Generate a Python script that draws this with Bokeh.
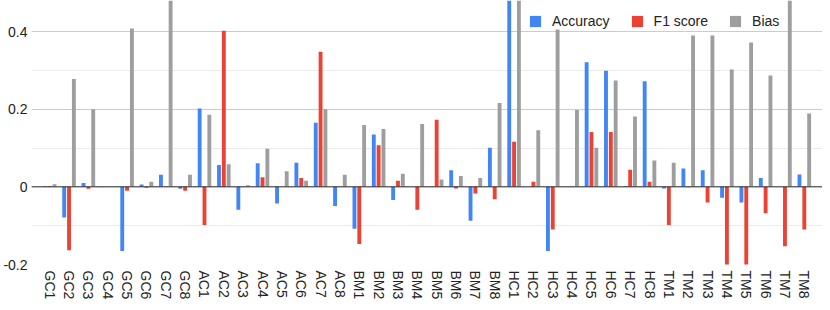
from bokeh.plotting import figure
from bokeh.models import ColumnDataSource, FactorRange, FixedTicker, Span, CustomJSTickFormatter, Legend
from bokeh.transform import dodge
from bokeh.embed import file_html
from bokeh.resources import INLINE

categories = ["GC1", "GC2", "GC3", "GC4", "GC5", "GC6", "GC7", "GC8",
              "AC1", "AC2", "AC3", "AC4", "AC5", "AC6", "AC7", "AC8",
              "BM1", "BM2", "BM3", "BM4", "BM5", "BM6", "BM7", "BM8",
              "HC1", "HC2", "HC3", "HC4", "HC5", "HC6", "HC7", "HC8",
              "TM1", "TM2", "TM3", "TM4", "TM5", "TM6", "TM7", "TM8"]

accuracy = [0.002, -0.079, 0.010, 0.001, -0.165, 0.006, 0.031, -0.005,
            0.202, 0.056, -0.059, 0.061, -0.043, 0.062, 0.165, -0.049,
            -0.108, 0.135, -0.034, 0.0, 0.001, 0.043, -0.087, 0.101,
            0.56, 0.0, -0.165, 0.0, 0.321, 0.299, 0.002, 0.272,
            -0.004, 0.047, 0.043, -0.028, -0.040, 0.023, 0.0, 0.032]

f1_score = [0.002, -0.163, -0.005, 0.0, -0.010, -0.002, 0.001, -0.010,
            -0.098, 0.402, 0.001, 0.025, 0.0, 0.023, 0.348, 0.001,
            -0.147, 0.107, 0.016, -0.059, 0.173, -0.004, -0.017, -0.032,
            0.116, 0.013, -0.110, 0.001, 0.141, 0.141, 0.044, 0.013,
            -0.098, -0.001, -0.040, -0.24, -0.23, -0.068, -0.153, -0.110]

bias = [0.007, 0.278, 0.200, 0.0, 0.408, 0.013, 0.55, 0.031,
        0.186, 0.058, 0.004, 0.098, 0.040, 0.016, 0.200, 0.031,
        0.159, 0.149, 0.034, 0.162, 0.019, 0.028, 0.023, 0.216,
        0.58, 0.146, 0.405, 0.198, 0.101, 0.274, 0.181, 0.068,
        0.062, 0.390, 0.390, 0.302, 0.372, 0.287, 0.55, 0.189]

series_names = ["Accuracy", "F1 score", "Bias"]
colors = ["#4285F4", "#EA4335", "#9E9E9E"]

source = ColumnDataSource(dict(cat=categories, acc=accuracy, f1=f1_score, bias=bias))

x_range = FactorRange(factors=categories, range_padding=0.44, range_padding_units="absolute")
p = figure(x_range=x_range, y_range=(-0.2, 0.48), width=822, height=302,
           output_backend="svg", toolbar_location=None,
           min_border_left=0, min_border_right=0, min_border_top=0, min_border_bottom=0)

r1 = p.vbar(x=dodge("cat", -0.25, range=p.x_range), top="acc", width=0.2, source=source,
            fill_color=colors[0], line_color=None)
r2 = p.vbar(x=dodge("cat", 0.0, range=p.x_range), top="f1", width=0.2, source=source,
            fill_color=colors[1], line_color=None)
r3 = p.vbar(x=dodge("cat", 0.25, range=p.x_range), top="bias", width=0.2, source=source,
            fill_color=colors[2], line_color=None)

p.add_layout(Span(location=0, dimension="width", line_color="#333333", line_width=1))

p.outline_line_color = None
p.xgrid.grid_line_color = None
p.ygrid.grid_line_color = "#cccccc"
p.ygrid.minor_grid_line_color = "#ebebeb"

for ax in (p.xaxis, p.yaxis):
    ax.axis_line_color = None
    ax.major_tick_line_color = None
    ax.minor_tick_line_color = None
    ax.major_tick_out = 0
    ax.major_tick_in = 0
    ax.minor_tick_out = 0
    ax.minor_tick_in = 0
    ax.axis_label_standoff = 0
    ax.major_label_text_font = "Liberation Sans"
    ax.major_label_text_font_size = "14px"
    ax.major_label_text_color = "#222222"

p.yaxis.ticker = FixedTicker(ticks=[-0.2, 0, 0.2, 0.4], minor_ticks=[-0.1, 0.1, 0.3])
p.yaxis.formatter = CustomJSTickFormatter(code="return tick == 0 ? '0' : tick.toFixed(1);")
p.yaxis.major_label_standoff = 4

p.xaxis.major_label_orientation = "vertical"
p.xaxis.major_label_standoff = 6

legend = Legend(items=[(series_names[0], [r1]), (series_names[1], [r2]), (series_names[2], [r3])],
                orientation="horizontal", location=(497, 235))
legend.background_fill_color = "white"
legend.background_fill_alpha = 1.0
legend.border_line_color = None
legend.label_text_font = "Liberation Sans"
legend.label_text_font_size = "14px"
legend.label_text_color = "#222222"
legend.glyph_width = 14
legend.glyph_height = 14
legend.label_standoff = 10
legend.spacing = 20
legend.padding = 6
legend.margin = 0
p.add_layout(legend, "center")

open("out.html", "w").write(file_html(p, INLINE))
